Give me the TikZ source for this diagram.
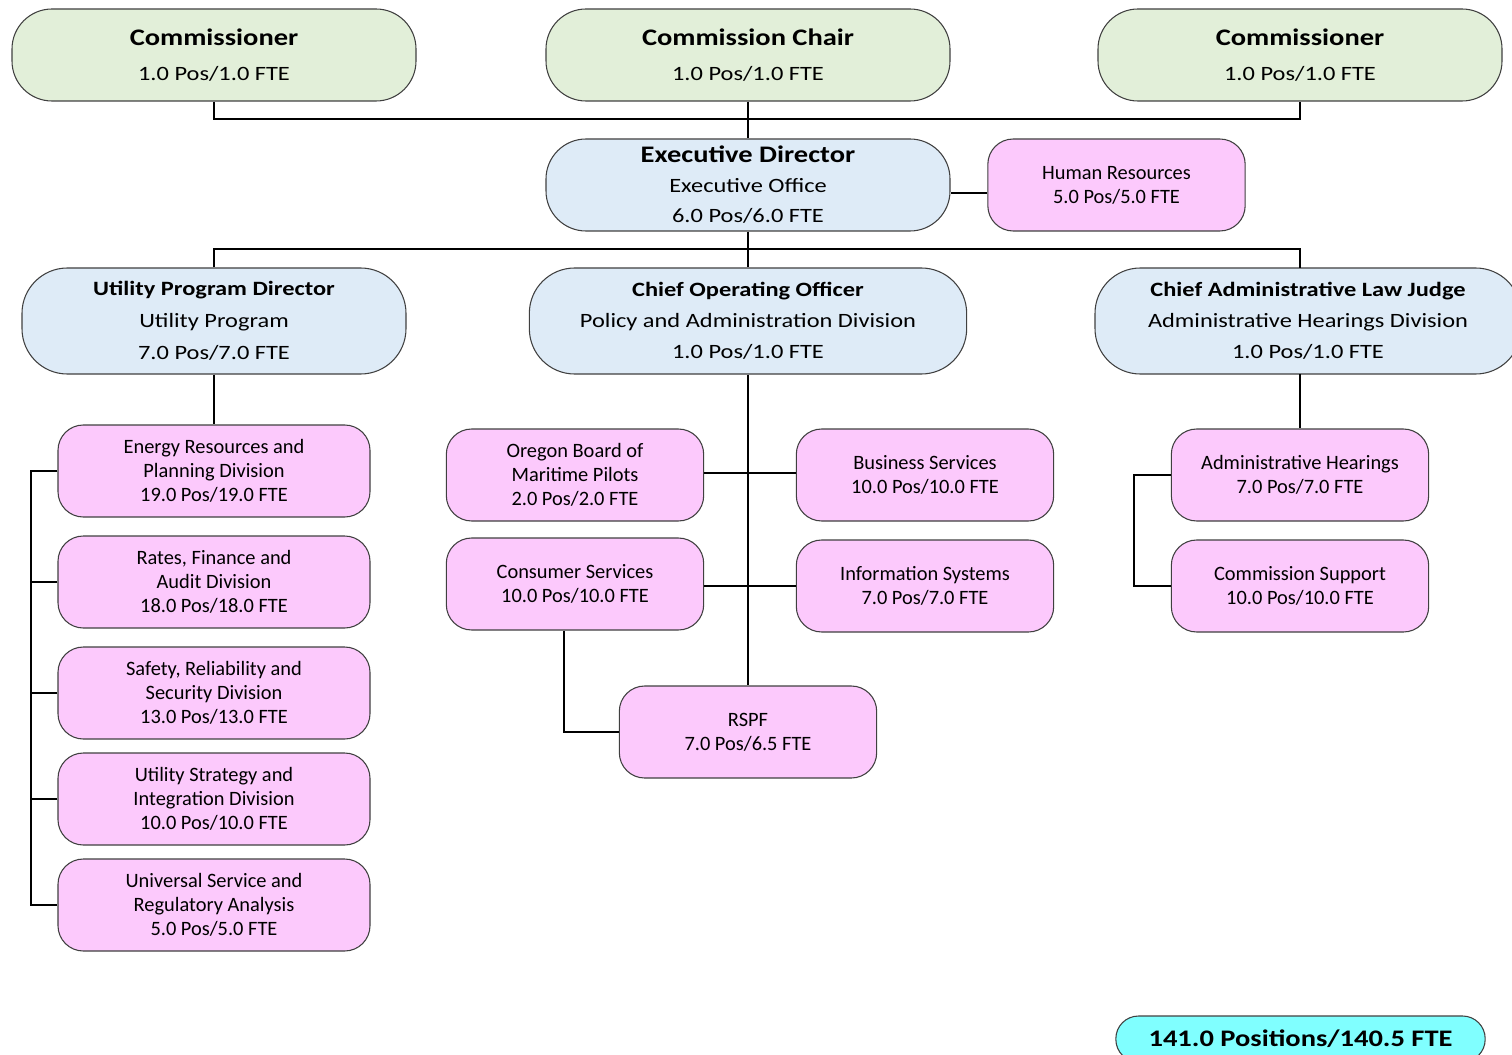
\documentclass[tikz,border=0pt]{standalone}
\usepackage{fontspec}
\setmainfont{Carlito}
\newfontfamily\widefont[FakeStretch=1.2]{Carlito}
\definecolor{gfill}{HTML}{E2EFD9}
\definecolor{bfill}{HTML}{DEEBF7}
\definecolor{pfill}{HTML}{FCC9FC}
\definecolor{cfill}{HTML}{80FFFF}
\definecolor{edge}{HTML}{404040}
\tikzset{
  box/.style={draw=edge, line width=0.8pt, inner sep=0pt, align=center, text=black},
  topbox/.style={box, fill=gfill, rounded corners=30pt, minimum width=303pt, minimum height=69pt,
     font=\widefont\fontsize{15.25}{26.25}\selectfont},
  edbox/.style={box, fill=bfill, rounded corners=30pt, minimum width=303pt, minimum height=69pt,
     font=\widefont\fontsize{15.25}{22.5}\selectfont},
  midbox/.style={box, fill=bfill, rounded corners=34pt, minimum height=79.5pt,
     font=\widefont\fontsize{15.25}{24}\selectfont},
  pbox/.style={box, fill=pfill, rounded corners=19pt, minimum width=193pt, minimum height=69pt,
     font=\fontsize{15.3}{18}\selectfont},
  wbox/.style={pbox, minimum width=234pt},
  totbox/.style={box, fill=cfill, rounded corners=17pt, minimum width=277pt, minimum height=34.5pt,
     font=\widefont\fontsize{17.8}{20}\selectfont\bfseries},
  conn/.style={draw=black, line width=1.5pt},
}
\newcommand\bigttl{\fontsize{17.8}{26.25}\selectfont\bfseries}
\newcommand\midttl{\fontsize{15.25}{24}\selectfont\bfseries}
\begin{document}
\begin{tikzpicture}[x=0.75pt, y=-0.75pt]
\useasboundingbox (0,0) rectangle (1512,1055);
\clip (0,0) rectangle (1512,1055);
% top row
\node[topbox] (c1) at (214,55) {{\bigttl Commissioner}\\1.0 Pos/1.0 FTE};
\node[topbox] (cc) at (748,55) {{\bigttl Commission Chair}\\1.0 Pos/1.0 FTE};
\node[topbox] (c2) at (1300,55) {{\bigttl Commissioner}\\1.0 Pos/1.0 FTE};
% executive
\node[edbox] (ed) at (748,185) {{\bigttl Executive Director}\\Executive Office\\6.0 Pos/6.0 FTE};
\node[pbox] (hr) at (1116.5,185) {Human Resources\\5.0 Pos/5.0 FTE};
% second row
\node[midbox, minimum width=288pt] (upd) at (214,321) {{\midttl Utility Program Director}\\Utility Program\\7.0 Pos/7.0 FTE};
\node[midbox, minimum width=328pt, font=\widefont\fontsize{15.25}{23.25}\selectfont] (coo) at (748,321) {{\midttl Chief Operating Officer}\\Policy and Administration Division\\1.0 Pos/1.0 FTE};
\node[midbox, minimum width=319.5pt, font=\widefont\fontsize{15.25}{23.25}\selectfont] (alj) at (1308,321) {{\midttl Chief Administrative Law Judge}\\Administrative Hearings Division\\1.0 Pos/1.0 FTE};
% utility program divisions
\node[wbox] (erp) at (214,471) {Energy Resources and\\Planning Division\\19.0 Pos/19.0 FTE};
\node[wbox] (rfa) at (214,582) {Rates, Finance and\\Audit Division\\18.0 Pos/18.0 FTE};
\node[wbox] (srs) at (214,693) {Safety, Reliability and\\Security Division\\13.0 Pos/13.0 FTE};
\node[wbox] (usi) at (214,799) {Utility Strategy and\\Integration Division\\10.0 Pos/10.0 FTE};
\node[wbox] (usr) at (214,905) {Universal Service and\\Regulatory Analysis\\5.0 Pos/5.0 FTE};
% policy and administration
\node[pbox] (obm) at (575,475) {Oregon Board of\\Maritime Pilots\\2.0 Pos/2.0 FTE};
\node[pbox] (bus) at (925,475) {Business Services\\10.0 Pos/10.0 FTE};
\node[pbox] (con) at (575,584) {Consumer Services\\10.0 Pos/10.0 FTE};
\node[pbox] (inf) at (925,586) {Information Systems\\7.0 Pos/7.0 FTE};
\node[pbox] (rsp) at (748,732) {RSPF\\7.0 Pos/6.5 FTE};
% hearings
\node[pbox] (ahr) at (1300,475) {Administrative Hearings\\7.0 Pos/7.0 FTE};
\node[pbox] (csu) at (1300,586) {Commission Support\\10.0 Pos/10.0 FTE};
% total
\node[totbox] (tot) at (1300.5,1039) {141.0 Positions/140.5 FTE};
% connectors
\coordinate (j1) at (748,119);
\coordinate (j2) at (748,249);
\coordinate (aljtop) at (1300,268);
\coordinate (aljbot) at (1300,374);
\coordinate (lb) at (31,0);
\coordinate (rb) at (1134,0);
\draw[conn] (c1.south) |- (j1) -| (c2.south);
\draw[conn] (cc.south) -- (ed.north);
\draw[conn] ([yshift=-6pt]ed.east) -- ([yshift=-6pt]hr.west);
\draw[conn] (ed.south) -- (coo.north);
\draw[conn] (upd.north) |- (j2) -| (aljtop);
\draw[conn] (upd.south) -- (erp.north);
\draw[conn] (erp.west) -- (erp.west -| lb) -- (usr.west -| lb) -- (usr.west);
\draw[conn] (rfa.west) -- (rfa.west -| lb);
\draw[conn] (srs.west) -- (srs.west -| lb);
\draw[conn] (usi.west) -- (usi.west -| lb);
\draw[conn] (coo.south) -- (rsp.north);
\draw[conn] ([yshift=1.5pt]obm.east) -- ([yshift=1.5pt]bus.west);
\draw[conn] (con.east |- inf.west) -- (inf.west);
\draw[conn] ([xshift=-8.25pt]con.south) |- (rsp.west);
\draw[conn] (aljbot) -- (ahr.north);
\draw[conn] (ahr.west) -- (ahr.west -| rb) -- (csu.west -| rb) -- (csu.west);
\end{tikzpicture}
\end{document}
